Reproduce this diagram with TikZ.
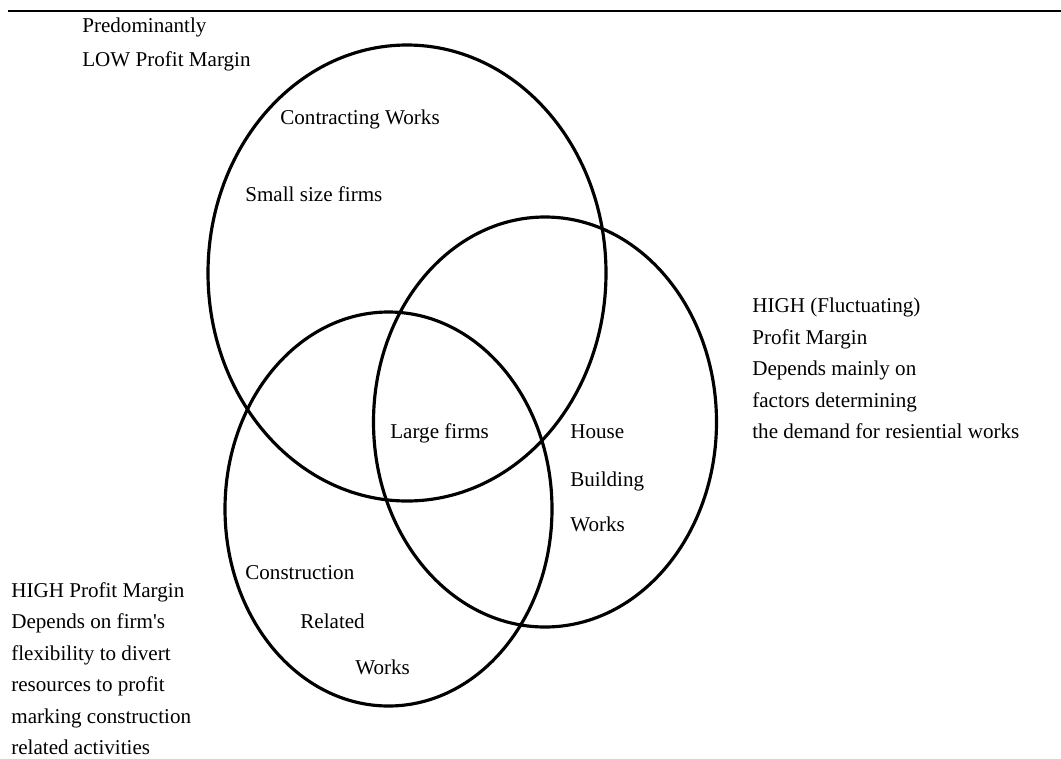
\documentclass[tikz,border=0pt]{standalone}
\usepackage{fontspec}
\setmainfont{Liberation Serif}
\usepackage{tikz}

\begin{document}
\begin{tikzpicture}[x=0.02cm,y=-0.02cm,
  venn/.style={line width=1.8pt},
  lbl/.style={inner sep=0pt,anchor=base west,font=\fontsize{12}{17.9}\selectfont},
  note/.style={inner sep=0pt,anchor=north west,align=left,font=\fontsize{12}{17.9}\selectfont}]
  \useasboundingbox (0,0) rectangle (1061,758);
  % rule at the top
  \draw[line width=1.1pt] (8,11) -- (1061,11);
  % the three sets
  \draw[venn] (407,273) ellipse [x radius=199,y radius=228];
  \draw[venn] (545,422) ellipse [x radius=171.5,y radius=205];
  \draw[venn] (388.5,509) ellipse [x radius=163.5,y radius=197];
  % labels inside the sets
  \node[lbl] (contract) at (280,124) {Contracting Works};
  \node[lbl] (small) at (245,201) {Small size firms};
  \node[lbl] (large) at (390,438) {Large firms};
  \node[lbl] (house) at (570,438) {House};
  \node[lbl] (building) at (570,486) {Building};
  \node[lbl] (hworks) at (570,531) {Works};
  \node[lbl] (constr) at (245,579) {Construction};
  \node[lbl] (related) at (300,628) {Related};
  \node[lbl] (cworks) at (355,674) {Works};
  % notes outside
  \node[note] (lowmargin) at (82,18) {Predominantly\\[1pt]LOW Profit Margin};
  \node[note] (highfluct) at (752,298) {HIGH (Fluctuating)\\Profit Margin\\Depends mainly on\\factors determining\\the demand for resiential works};
  \node[note] (highflex) at (11,582) {HIGH Profit Margin\\Depends on firm\textquotesingle s\\flexibility to divert\\resources to profit\\marking construction\\related activities};
\end{tikzpicture}
\end{document}
